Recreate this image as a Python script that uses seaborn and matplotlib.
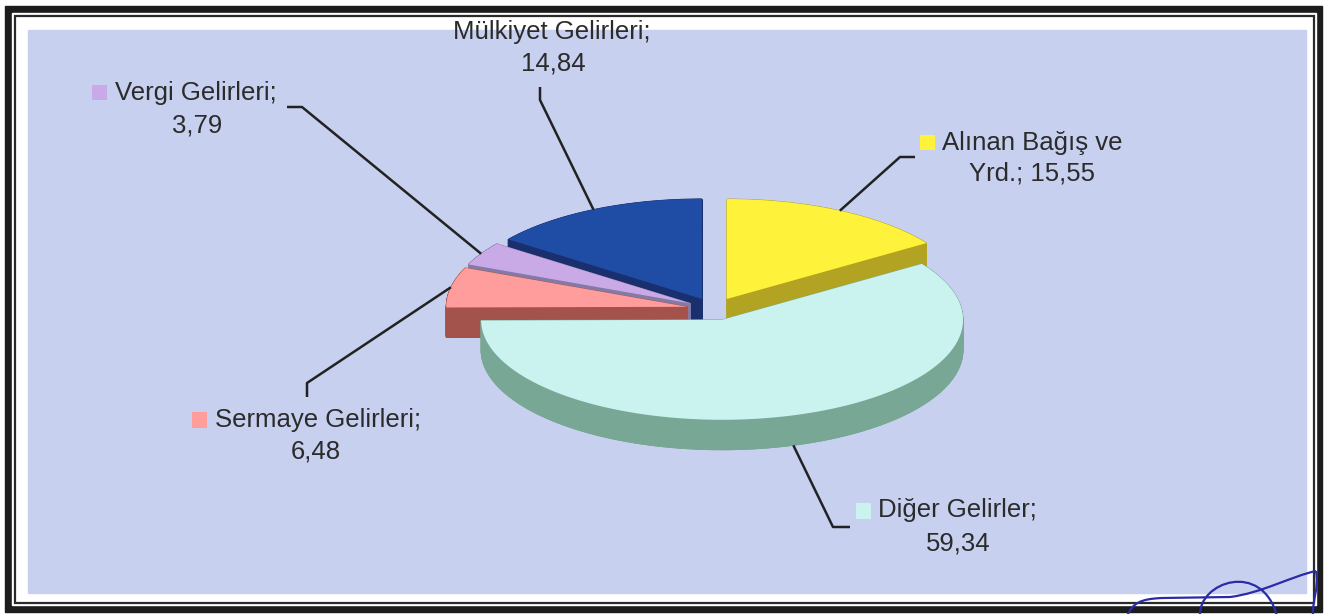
import numpy as np
import pandas as pd
import matplotlib
matplotlib.use("Agg")
import matplotlib.pyplot as plt
import seaborn as sns
from matplotlib.patches import Rectangle, PathPatch
from matplotlib.path import Path

# ── datos ──────────────────────────────────────────────────────
categorias = ["Alınan Bağış ve Yrd.", "Diğer Gelirler", "Sermaye Gelirleri",
              "Vergi Gelirleri", "Mülkiyet Gelirleri"]
valores    = [15.55, 59.34, 6.48, 3.79, 14.84]
linea_1    = ["Alınan Bağış ve", "Diğer Gelirler;", "Sermaye Gelirleri;",
              "Vergi Gelirleri;", "Mülkiyet Gelirleri;"]
color_top  = ["#FFF23A", "#CAF3EF", "#FF9D9D", "#C9AAE6", "#1F4DA6"]
color_wall = ["#B3A322", "#79A795", "#A4524C", "#857AA6", "#1A2F6E"]

# ── estilo ─────────────────────────────────────────────────────
sns.set_theme(style="white")
plt.rcParams["font.family"] = ["Liberation Sans", "DejaVu Sans"]
FS = 18.5
TXT = "#2b2b2b"

fig = plt.figure(figsize=(13.25, 6.14), dpi=100)
ax = fig.add_axes([0, 0, 1, 1])

# marco escaneado
ax.add_patch(Rectangle((0, 0), 1325, 614, color="white", zorder=0))
ax.add_patch(Rectangle((5, 6), 1317, 606, color="#1c1c1c", zorder=0.1))
ax.add_patch(Rectangle((12, 13), 1304, 592, color="white", zorder=0.2))
ax.add_patch(Rectangle((14.5, 15.5), 1299, 587, fill=False, ec="#2a2a2a",
                       lw=1.6, zorder=0.3))
ax.add_patch(Rectangle((28, 30), 1278, 563, color="#C7D0EF", zorder=0.4))

# ── pastel 3D ──────────────────────────────────────────────────
CX, CY, RX, RY, T, EXP = 714, 309, 241, 100, 30, 0.113
frac = np.array(valores) / sum(valores)
a_ini = 90 - np.concatenate([[0], np.cumsum(frac)[:-1]]) * 360
a_fin = a_ini - frac * 360
a_mid = (a_ini + a_fin) / 2

slices = []
for i in range(len(valores)):
    m = np.radians(a_mid[i])
    cx = CX + EXP * RX * np.cos(m)
    cy = CY - EXP * RY * np.sin(m)
    th = np.radians(np.linspace(a_ini[i], a_fin[i], 120))
    xs = np.concatenate([[cx], cx + RX * np.cos(th)])
    ys = np.concatenate([[cy], cy - RY * np.sin(th)])
    slices.append((i, cx, cy, xs, ys, np.sin(m)))

# de atrás hacia adelante
for i, cx, cy, xs, ys, s in sorted(slices, key=lambda r: -r[5]):
    z = 2 + (1 - s)
    ax.fill(xs, ys + T, color=color_wall[i], lw=0.6, ec=color_wall[i], zorder=z)
    n = len(xs)
    for k in range(n):
        j = (k + 1) % n
        ax.fill([xs[k], xs[j], xs[j], xs[k]],
                [ys[k], ys[j], ys[j] + T, ys[k] + T],
                color=color_wall[i], lw=0.6, ec=color_wall[i], zorder=z)
    ax.fill(xs, ys, color=color_top[i], lw=0, zorder=z + 0.01)

# ── etiquetas ──────────────────────────────────────────────────
# (x texto línea 1, y línea 1, x centro línea 2, y línea 2)
pos_txt = [(942, 143, 1032, 173), (878, 510, 958, 543), (215, 420, 316, 452),
           (115, 93, 197, 125), (453, 32, 553, 63)]
# codo de la línea guía: (inicio, quiebre)
guias = [((915, 157), (900, 157)), ((850, 527), (833, 527)),
         ((307, 397), (307, 383)), ((287, 107), (302, 107)),
         ((540, 87), (540, 100))]

for i, cx, cy, xs, ys, s in slices:
    m = np.radians(a_mid[i])
    px = cx + RX * np.cos(m)
    py = cy - RY * np.sin(m) + (T if s < 0 else 0)
    (x0, y0), (x1, y1) = guias[i]
    ax.plot([x0, x1, px], [y0, y1, py], color="#222222", lw=1.8, zorder=10,
            solid_capstyle="butt")

    val = f"{valores[i]:.2f}".replace(".", ",")
    full = f"{categorias[i]}; {val}"
    l2 = full[len(linea_1[i]):].strip()
    tx, ty, t2x, t2y = pos_txt[i]
    ax.text(tx, ty, linea_1[i], fontsize=FS, color=TXT, ha="left",
            va="center", zorder=11)
    ax.text(t2x, t2y, l2, fontsize=FS, color=TXT, ha="center",
            va="center", zorder=11)

# cuadritos de leyenda junto a las etiquetas (Mülkiyet no lleva)
keys = pd.DataFrame({"x": [927.5, 863.5, 199.5, 99.5],
                     "y": [142.5, 511, 420, 92.5],
                     "cat": categorias[:4]})
sns.scatterplot(data=keys, x="x", y="y", hue="cat",
                palette=dict(zip(categorias, color_top)), marker="s", s=120,
                linewidth=0, legend=False, ax=ax, zorder=11)

# firma a mano en la esquina
firma = [
    [(Path.MOVETO, (1127, 616)), (Path.CURVE4, (1133, 603)), (Path.CURVE4, (1140, 599)),
     (Path.CURVE4, (1162, 598)), (Path.LINETO, (1230, 597)), (Path.CURVE4, (1262, 593)),
     (Path.CURVE4, (1292, 576)), (Path.CURVE4, (1316, 571))],
    [(Path.MOVETO, (1200, 616)), (Path.CURVE4, (1198, 582)), (Path.CURVE4, (1262, 560)),
     (Path.CURVE4, (1277, 616))],
    [(Path.MOVETO, (1316, 571)), (Path.CURVE4, (1319, 590)), (Path.CURVE4, (1312, 600)),
     (Path.CURVE4, (1313, 616))],
]
for trazo in firma:
    codes, verts = zip(*trazo)
    ax.add_patch(PathPatch(Path(verts, codes), fill=False, ec="#2b2ba8",
                           lw=1.6, zorder=12))

ax.set_xlim(0, 1325)
ax.set_ylim(614, 0)
ax.axis("off")
fig.savefig("out.png", dpi=100)
